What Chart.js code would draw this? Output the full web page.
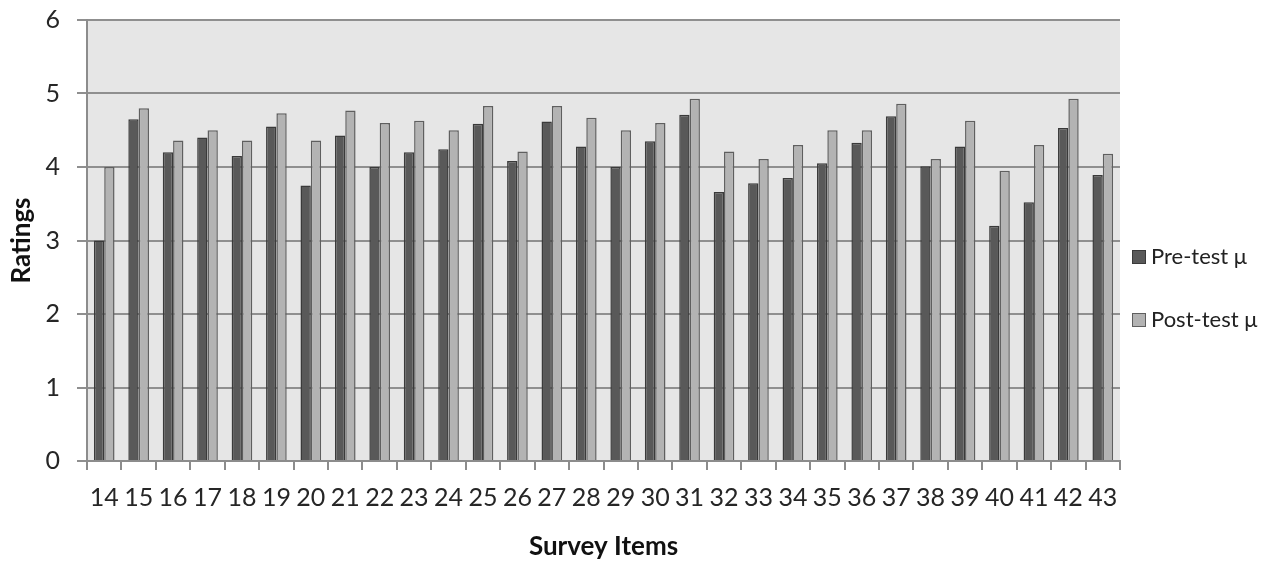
<!DOCTYPE html>
<html>
<head>
<meta charset="utf-8">
<script src="https://cdn.jsdelivr.net/npm/chart.js@4.4.1/dist/chart.umd.min.js"></script>
<style>
  html, body { margin: 0; padding: 0; background: #ffffff; }
  #wrap { width: 1273px; height: 562px; }
</style>
</head>
<body>
<div id="wrap"><canvas id="c" width="1273" height="562"></canvas></div>
<script>
const categories = ["14","15","16","17","18","19","20","21","22","23","24","25","26","27","28","29","30","31","32","33","34","35","36","37","38","39","40","41","42","43"];
const preTest = [3.00, 4.65, 4.20, 4.40, 4.15, 4.55, 3.75, 4.43, 4.00, 4.20, 4.24, 4.59, 4.08, 4.62, 4.28, 4.00, 4.35, 4.71, 3.66, 3.78, 3.85, 4.05, 4.33, 4.69, 4.01, 4.28, 3.20, 3.52, 4.53, 3.89];
const postTest = [4.00, 4.80, 4.36, 4.50, 4.36, 4.73, 4.36, 4.77, 4.60, 4.63, 4.50, 4.83, 4.21, 4.83, 4.67, 4.50, 4.60, 4.93, 4.21, 4.11, 4.30, 4.50, 4.50, 4.86, 4.11, 4.63, 3.95, 4.30, 4.93, 4.18];
const seriesNames = ["Pre-test \u03bc", "Post-test \u03bc"];
const yTicks = [0, 1, 2, 3, 4, 5, 6];

const FONT = "Lato, 'Open Sans', sans-serif";
const W = 1273, H = 562;
const AREA = { left: 87, right: 1120, top: 20, bottom: 461 };

const plotBg = {
  id: 'plotBg',
  beforeDraw(chart) {
    const { ctx, chartArea: a } = chart;
    ctx.save();
    ctx.fillStyle = '#e6e6e6';
    ctx.fillRect(a.left, a.top, a.right - a.left, a.bottom - a.top);
    ctx.restore();
  }
};

const sideLegend = {
  id: 'sideLegend',
  afterDraw(chart) {
    const { ctx } = chart;
    const rows = [257, 320];
    ctx.save();
    chart.data.datasets.forEach((ds, i) => {
      const y = rows[i];
      ctx.fillStyle = ds.backgroundColor;
      ctx.fillRect(1132, y - 7, 14, 14);
      ctx.strokeStyle = ds.borderColor;
      ctx.lineWidth = 1;
      ctx.strokeRect(1132.5, y - 6.5, 13, 13);
      ctx.fillStyle = '#222222';
      ctx.font = "22px " + FONT;
      ctx.textBaseline = 'middle';
      ctx.textAlign = 'left';
      ctx.fillText(ds.label, 1151, y);
    });
    ctx.restore();
  }
};

new Chart(document.getElementById('c'), {
  type: 'bar',
  data: {
    labels: categories,
    datasets: [
      { label: seriesNames[0], data: preTest, backgroundColor: '#595959', borderColor: '#3a3a3a', borderWidth: 1.5 },
      { label: seriesNames[1], data: postTest, backgroundColor: '#b3b3b3', borderColor: '#5f5f5f', borderWidth: 1.5 }
    ]
  },
  options: {
    responsive: false,
    animation: false,
    devicePixelRatio: 1,
    layout: { padding: { left: 5, right: W - AREA.right, top: AREA.top, bottom: 0 } },
    datasets: { bar: { categoryPercentage: 0.6, barPercentage: 1.0 } },
    plugins: { legend: { display: false }, tooltip: { enabled: false } },
    scales: {
      x: {
        grid: { drawOnChartArea: false, drawTicks: true, tickLength: 9, color: '#8c8c8c', lineWidth: 2 },
        border: { color: '#8c8c8c', width: 2 },
        ticks: { autoSkip: false, maxRotation: 0, minRotation: 0, padding: 13, color: '#262626', font: { family: FONT, size: 25 } },
        title: { display: true, text: 'Survey Items', color: '#111111', font: { family: FONT, size: 26, weight: 'bold' }, padding: { top: 0, bottom: 0 } },
        afterFit(scale) { scale.height = H - AREA.bottom; scale.paddingLeft = 0; scale.paddingRight = 0; scale.paddingTop = 0; scale.paddingBottom = 0; }
      },
      y: {
        min: 0, max: 6,
        afterBuildTicks(scale) { scale.ticks = yTicks.map(v => ({ value: v })); },
        grid: { drawOnChartArea: true, drawTicks: true, tickLength: 10, color: '#8f8f8f', lineWidth: 2 },
        border: { color: '#8c8c8c', width: 2 },
        ticks: { padding: 17, color: '#262626', font: { family: FONT, size: 25 } },
        title: { display: true, text: 'Ratings', color: '#111111', font: { family: FONT, size: 26, weight: 'bold' }, padding: { top: 1, bottom: 0 } },
        afterFit(scale) { scale.width = AREA.left - 5; scale.paddingTop = 0; scale.paddingBottom = 0; scale.paddingLeft = 0; scale.paddingRight = 0; }
      }
    }
  },
  plugins: [plotBg, sideLegend]
});
</script>
</body>
</html>
